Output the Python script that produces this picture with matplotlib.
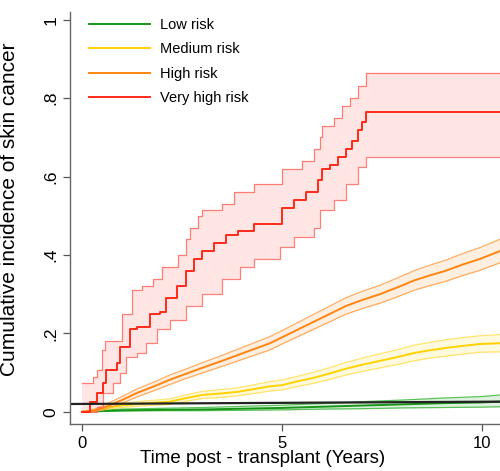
import numpy as np
import matplotlib
matplotlib.use("Agg")
import matplotlib.pyplot as plt

plt.rcParams['font.family'] = ['Liberation Sans', 'DejaVu Sans']

X_END = 10.45

# Very high risk (red)
vh_x = [0, 0.2, 0.37, 0.53, 0.6, 0.87, 0.95, 1.2, 1.37, 1.7, 1.95, 2.1, 2.37, 2.6, 2.8, 3.0, 3.3, 3.6, 3.9, 4.3, 5.0, 5.3, 5.6, 5.9, 6.0, 6.2, 6.4, 6.6, 6.75, 6.9, 7.0, 7.1]
vh_y = [0, 0.026, 0.048, 0.074, 0.107, 0.125, 0.166, 0.21, 0.217, 0.25, 0.255, 0.29, 0.32, 0.36, 0.39, 0.41, 0.43, 0.45, 0.46, 0.48, 0.52, 0.54, 0.56, 0.59, 0.62, 0.63, 0.65, 0.67, 0.69, 0.72, 0.74, 0.765]
vh_up_x = [0, 0.28, 0.37, 0.5, 0.58, 1.0, 1.24, 1.5, 1.78, 2.0, 2.4, 2.6, 2.7, 2.9, 3.0, 3.5, 3.8, 4.3, 5.0, 5.5, 5.8, 5.95, 6.0, 6.3, 6.5, 6.7, 6.9, 7.1]
vh_up_y = [0.074, 0.09, 0.107, 0.158, 0.18, 0.25, 0.31, 0.32, 0.34, 0.37, 0.40, 0.44, 0.47, 0.50, 0.515, 0.53, 0.56, 0.58, 0.62, 0.64, 0.67, 0.70, 0.73, 0.75, 0.78, 0.80, 0.83, 0.865]
vh_lo_x = [0, 0.37, 0.53, 0.78, 0.95, 1.1, 1.37, 1.6, 1.87, 2.2, 2.6, 3.0, 3.5, 3.95, 4.3, 4.95, 5.3, 5.8, 5.95, 6.3, 6.6, 6.9, 7.1]
vh_lo_y = [0, 0.013, 0.048, 0.074, 0.10, 0.14, 0.15, 0.175, 0.21, 0.235, 0.27, 0.30, 0.34, 0.37, 0.39, 0.42, 0.445, 0.47, 0.515, 0.54, 0.58, 0.625, 0.65]

# High risk (orange)
hi_x = [0, 0.3, 0.53, 1.0, 1.37, 1.8, 2.2, 2.6, 3.0, 3.5, 3.9, 4.3, 4.7, 5.0, 5.4, 5.8, 6.2, 6.6, 7.0, 7.45, 7.9, 8.3, 8.7, 9.1, 9.5, 9.95, 10.45]
hi_y = [0, 0.003, 0.01, 0.03, 0.048, 0.065, 0.082, 0.097, 0.112, 0.13, 0.145, 0.16, 0.175, 0.19, 0.21, 0.23, 0.25, 0.27, 0.285, 0.30, 0.318, 0.335, 0.348, 0.36, 0.375, 0.39, 0.41]
hi_up_y = [0, 0.006, 0.016, 0.039, 0.058, 0.076, 0.094, 0.109, 0.125, 0.144, 0.160, 0.176, 0.192, 0.207, 0.228, 0.249, 0.270, 0.291, 0.307, 0.323, 0.342, 0.360, 0.374, 0.387, 0.403, 0.419, 0.44]
hi_lo_y = [0, 0.001, 0.005, 0.022, 0.038, 0.054, 0.070, 0.085, 0.099, 0.116, 0.130, 0.144, 0.158, 0.173, 0.192, 0.211, 0.230, 0.249, 0.263, 0.277, 0.294, 0.310, 0.322, 0.333, 0.347, 0.361, 0.38]

# Medium risk (yellow)
md_x = [0, 0.5, 0.95, 1.5, 2.2, 2.6, 3.0, 3.5, 3.9, 4.3, 4.7, 5.0, 5.4, 5.8, 6.2, 6.6, 7.0, 7.45, 7.9, 8.3, 8.7, 9.1, 9.5, 9.95, 10.45]
md_y = [0, 0.008, 0.016, 0.021, 0.026, 0.035, 0.043, 0.047, 0.051, 0.058, 0.065, 0.068, 0.078, 0.087, 0.098, 0.11, 0.12, 0.13, 0.14, 0.15, 0.157, 0.163, 0.168, 0.173, 0.175]
md_up_y = [0, 0.011, 0.021, 0.027, 0.033, 0.043, 0.052, 0.057, 0.061, 0.069, 0.077, 0.081, 0.091, 0.101, 0.113, 0.126, 0.137, 0.148, 0.159, 0.170, 0.177, 0.184, 0.189, 0.194, 0.197]
md_lo_y = [0, 0.005, 0.011, 0.015, 0.019, 0.027, 0.034, 0.037, 0.041, 0.047, 0.053, 0.056, 0.065, 0.073, 0.083, 0.094, 0.103, 0.112, 0.121, 0.130, 0.137, 0.142, 0.147, 0.152, 0.153]

# Low risk (green)
lo_x = [0, 0.5, 1.0, 2.0, 3.0, 4.0, 5.0, 6.0, 7.0, 8.0, 9.0, 10.0, 10.45]
lo_y = [0, 0.002, 0.004, 0.005, 0.006, 0.008, 0.010, 0.013, 0.016, 0.019, 0.022, 0.024, 0.026]
lo_up_y = [0, 0.004, 0.007, 0.009, 0.011, 0.014, 0.017, 0.021, 0.026, 0.030, 0.035, 0.039, 0.043]
lo_lo_y = [0, 0.001, 0.002, 0.003, 0.003, 0.004, 0.005, 0.007, 0.008, 0.010, 0.011, 0.012, 0.013]

# Reference line (black)
ref_x = [-0.3, X_END]
ref_y = [0.020, 0.026]

labels = ["Low risk", "Medium risk", "High risk", "Very high risk"]
xticks = [0, 5, 10]
yticks = [0, 0.2, 0.4, 0.6, 0.8, 1.0]
yticklabels = ["0", ".2", ".4", ".6", ".8", "1"]


def ext(x, y):
    return np.append(x, X_END), np.append(y, y[-1])


def stepval(xs, ys, grid):
    xs = np.asarray(xs); ys = np.asarray(ys)
    idx = np.searchsorted(xs, grid, side='right') - 1
    idx = np.clip(idx, 0, len(ys) - 1)
    return ys[idx]


fig = plt.figure(figsize=(5.0, 4.71), dpi=100)
ax = fig.add_axes([0.14, 0.0998, 0.86, 0.875])

handles = []

smooth = [
    (lo_x, lo_y, lo_up_y, lo_lo_y, "#189618", "#3cb83c", labels[0]),
    (md_x, md_y, md_up_y, md_lo_y, "#ffd200", "#ffe055", labels[1]),
    (hi_x, hi_y, hi_up_y, hi_lo_y, "#ff8510", "#ffa04a", labels[2]),
]
for xs, ys, up, lo, col, ccol, lab in smooth:
    ax.fill_between(xs, lo, up, color=col, alpha=0.13, lw=0)
    ax.plot(xs, up, color=ccol, lw=0.9, alpha=0.85)
    ax.plot(xs, lo, color=ccol, lw=0.9, alpha=0.85)
    h, = ax.plot(xs, ys, color=col, lw=1.4, label=lab)
    handles.append(h)

# Very high risk: step curves
col, ccol = "#ff2a1a", "#ff6a60"
grid = np.unique(np.concatenate([vh_up_x, vh_lo_x, [X_END]]))
upv = stepval(vh_up_x, vh_up_y, grid)
lov = stepval(vh_lo_x, vh_lo_y, grid)
ax.fill_between(grid, lov, upv, step='post', color=col, alpha=0.12, lw=0)
ex, ey = ext(vh_up_x, vh_up_y)
ax.step(ex, ey, where='post', color=ccol, lw=0.9, alpha=0.85)
ex, ey = ext(vh_lo_x, vh_lo_y)
ax.step(ex, ey, where='post', color=ccol, lw=0.9, alpha=0.85)
ex, ey = ext(vh_x, vh_y)
h, = ax.step(ex, ey, where='post', color=col, lw=1.4, label=labels[3])
handles.append(h)

ax.plot(ref_x, ref_y, color="#222222", lw=1.6)

ax.set_xlim(-0.3, X_END)
ax.set_ylim(-0.031, 1.02)
ax.set_xticks(xticks)
ax.set_xticklabels([str(t) for t in xticks], fontsize=12)
ax.set_yticks(yticks)
ax.set_yticklabels(yticklabels, fontsize=12.5, rotation=90, va='center')
ax.tick_params(axis='both', length=5, width=0.9, color='#555555', pad=3.5)
for s in ['top', 'right']:
    ax.spines[s].set_visible(False)
for s in ['left', 'bottom']:
    ax.spines[s].set_color('#666666')
    ax.spines[s].set_linewidth(1.0)

ax.set_xlabel("Time post - transplant (Years)", fontsize=13.5)
ax.xaxis.set_label_coords((263 - 70) / 430, -0.063)
ax.set_ylabel("Cumulative incidence of skin cancer", fontsize=15)
ax.yaxis.set_label_coords(-0.118, 0.52)

leg = ax.legend(handles=handles, loc='upper left', frameon=False, fontsize=10.5,
                handlelength=4.2, handletextpad=0.7, labelspacing=0.72,
                bbox_to_anchor=(0.034, 0.996), borderaxespad=0.0, borderpad=0.3)

fig.savefig("out.png", dpi=100)
